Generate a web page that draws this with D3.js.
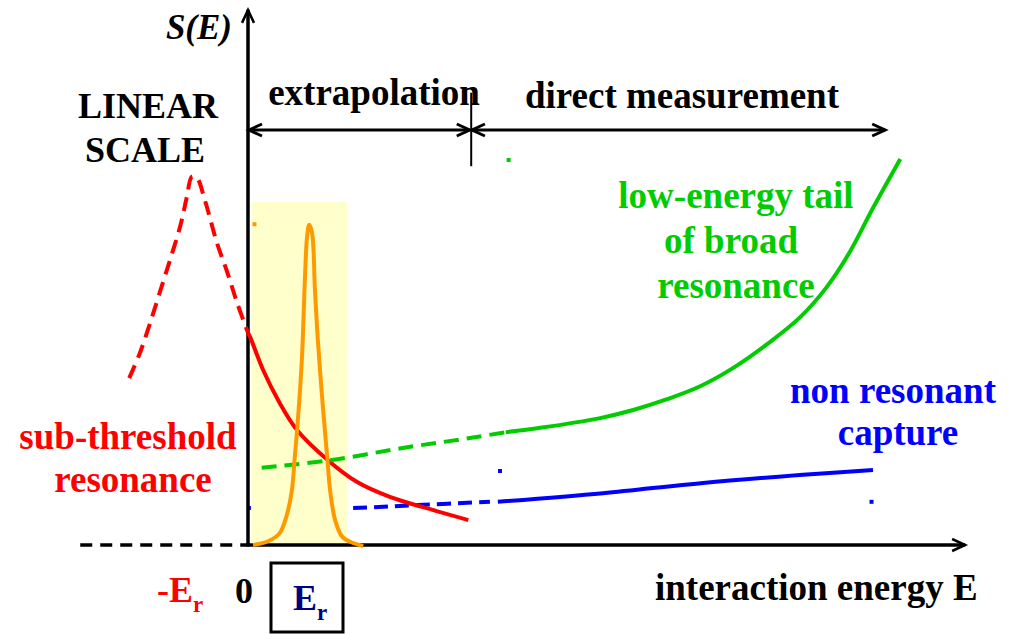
<!DOCTYPE html>
<html>
<head>
<meta charset="utf-8">
<script src="https://cdn.jsdelivr.net/npm/d3@7"></script>
<style>
  body { margin: 0; background: white; }
</style>
</head>
<body>
<div id="display"></div>
<script>
// curves: E and S(E) in arbitrary units
const subThresholdTail = [[-16.5, 30.9], [-15.0, 35.6], [-13.6, 41.1], [-12.2, 47.0], [-10.8, 52.9], [-9.4, 59.1],
    [-8.5, 64.4], [-7.8, 68.2], [-7.1, 68.0], [-6.0, 63.9], [-4.3, 55.9], [-2.9, 50.6], [-1.5, 44.8], [0, 39.3]];
const subThresholdData = [[0, 39.3], [0.3, 38.5], [2.1, 32.4], [4.4, 26.3], [6.8, 21.3], [11.1, 15.7],
    [15.1, 11.7], [19.7, 8.9], [24.3, 7.0], [30.6, 4.6]];
const narrowPeak = [[0.7, 0], [2.8, 0.7], [4.4, 2.2], [5.4, 5.6], [6.1, 10.2], [6.5, 16.3], [6.9, 22.6], [7.5, 34.8],
    [7.9, 49.1], [8.2, 57.0], [8.5, 59.3], [8.9, 57.8], [9.3, 47.2], [9.7, 38.0], [10.4, 25.6], [11.0, 16.3],
    [11.4, 10.2], [12.1, 4.6], [13.1, 1.5], [14.2, 0.6], [16.0, -0.2]];
const broadExtrap = [[1.9, 14.3], [11.4, 15.7], [22.1, 18.1], [30.8, 19.8], [35.8, 20.9]];
const broadMeasured = [[35.8, 20.9], [40.6, 21.7], [48.9, 23.5], [53.5, 25.0], [58.2, 27.0], [62.8, 29.4],
    [67.4, 32.8], [72.1, 37.2], [76.7, 42.2], [80.4, 47.8], [83.6, 54.3], [86.8, 62.4], [90.6, 71.5]];
const nonResExtrap = [[0, 6.85], [13.9, 6.85], [23.6, 7.4], [33.6, 8.0]];
const nonResMeasured = [[34.7, 8.0], [49.3, 9.6], [63.2, 11.5], [77.1, 13.0], [86.8, 13.9]];
const strayMarks = [[0.9, 59.4, '#ff9900'], [36.2, 71.3, '#00cc00'], [35.0, 13.7, '#0000ff'], [86.6, 8.0, '#0000ff']];

// ranges
const windowE = [0.4, 13.75], windowTop = 63.5;
const extrapE = [0, 30.8], measuredE = [31.1, 88.5], splitE = 31.0, rangeS = 76.85;
const negAxisE = -23.3, axisEndE = 99.6, axisEndS = 99.1;

const svg = d3.select('#display')
    .append('svg')
    .attr('width', 1015)
    .attr('height', 634);

const x = d3.scaleLinear().domain([0, 100]).range([248, 968]);
const y = d3.scaleLinear().domain([0, 100]).range([545, 5]);

const line = d3.line()
    .x(d => x(d[0]))
    .y(d => y(d[1]))
    .curve(d3.curveCatmullRom.alpha(0.5));

function curve(data, color, dash) {
    svg.append('path')
        .attr('d', line(data))
        .attr('fill', 'none')
        .attr('stroke', color)
        .attr('stroke-width', 4)
        .attr('stroke-dasharray', dash || null);
}

function arrowHead(px, py, dir, w) {
    // dir: angle of travel in degrees
    const g = svg.append('g').attr('transform', `translate(${px},${py}) rotate(${dir})`);
    g.append('path')
        .attr('d', 'M-13,-6 L0,0 L-13,6')
        .attr('fill', 'none')
        .attr('stroke', 'black')
        .attr('stroke-width', w);
}

function label(tx, ty, str, color, size, anchor) {
    return svg.append('text')
        .attr('x', tx)
        .attr('y', ty)
        .attr('fill', color)
        .attr('font-family', 'Liberation Serif')
        .attr('font-weight', 'bold')
        .attr('font-size', size + 'px')
        .attr('text-anchor', anchor || 'middle')
        .text(str);
}

// blue extrapolation sits under the highlighted window
curve(nonResExtrap, '#0000ff', '14,7');

svg.append('rect')
    .attr('x', x(windowE[0]))
    .attr('y', y(windowTop))
    .attr('width', x(windowE[1]) - x(windowE[0]))
    .attr('height', y(0) - y(windowTop))
    .attr('fill', '#ffffcc');

// axes
svg.append('line')
    .attr('x1', x(0)).attr('y1', y(0))
    .attr('x2', x(axisEndE)).attr('y2', y(0))
    .attr('stroke', 'black').attr('stroke-width', 3.5);
arrowHead(x(axisEndE), y(0), 0, 2.5);
svg.append('line')
    .attr('x1', x(0)).attr('y1', y(0) + 1.5)
    .attr('x2', x(0)).attr('y2', y(axisEndS))
    .attr('stroke', 'black').attr('stroke-width', 3.5);
arrowHead(x(0), y(axisEndS), -90, 2.5);
svg.append('line')
    .attr('x1', x(negAxisE)).attr('y1', y(0))
    .attr('x2', x(0)).attr('y2', y(0))
    .attr('stroke', 'black').attr('stroke-width', 3.5)
    .attr('stroke-dasharray', '12,8');

// range arrows
svg.append('line')
    .attr('x1', x(extrapE[0])).attr('y1', y(rangeS))
    .attr('x2', x(extrapE[1])).attr('y2', y(rangeS))
    .attr('stroke', 'black').attr('stroke-width', 3);
arrowHead(x(extrapE[0]) + 1, y(rangeS), 180, 3);
arrowHead(x(extrapE[1]), y(rangeS), 0, 3);
svg.append('line')
    .attr('x1', x(measuredE[0])).attr('y1', y(rangeS))
    .attr('x2', x(measuredE[1])).attr('y2', y(rangeS))
    .attr('stroke', 'black').attr('stroke-width', 3);
arrowHead(x(measuredE[0]), y(rangeS), 180, 3);
arrowHead(x(measuredE[1]), y(rangeS), 0, 3);
svg.append('line')
    .attr('x1', x(splitE)).attr('y1', y(rangeS + 6.9))
    .attr('x2', x(splitE)).attr('y2', y(rangeS - 6.7))
    .attr('stroke', 'black').attr('stroke-width', 2);

// curves
curve(subThresholdTail, '#ff0000', '14,8');
curve(subThresholdData, '#ff0000');
curve(broadExtrap, '#00cc00', '15,8');
curve(broadMeasured, '#00cc00');
curve(nonResMeasured, '#0000ff');
curve(narrowPeak, '#ff9900');

svg.selectAll('rect.stray')
    .data(strayMarks)
    .enter().append('rect')
    .attr('class', 'stray')
    .attr('x', d => x(d[0]) - 2)
    .attr('y', d => y(d[1]) - 2)
    .attr('width', 4)
    .attr('height', 4)
    .attr('fill', d => d[2]);

// texts
label(232, 39, 'S(E)', 'black', 35, 'end').attr('font-style', 'italic');
label(148, 118, 'LINEAR', 'black', 36);
label(145, 162, 'SCALE', 'black', 36);
label(374, 105, 'extrapolation', 'black', 37);
label(682, 108, 'direct measurement', 'black', 37);
label(736, 208, 'low-energy tail', '#00cc00', 37);
label(731, 253, 'of broad', '#00cc00', 37);
label(736, 298, 'resonance', '#00cc00', 37);
label(893, 403, 'non resonant', '#0000ff', 37);
label(898, 445, 'capture', '#0000ff', 37);
label(128, 449, 'sub-threshold', '#ff0000', 37);
label(133, 492, 'resonance', '#ff0000', 37);
label(655, 600, 'interaction energy E', 'black', 37, 'start');
label(244, 603, '0', 'black', 36);

const negEr = label(157, 602, '-E', '#ff0000', 36, 'start');
negEr.append('tspan').attr('dy', 10).attr('font-size', '23px').text('r');

svg.append('rect')
    .attr('x', 271).attr('y', 563)
    .attr('width', 72).attr('height', 69)
    .attr('fill', 'none')
    .attr('stroke', 'black')
    .attr('stroke-width', 3);
const er = label(293, 610, 'E', '#000080', 36, 'start');
er.append('tspan').attr('dy', 10).attr('font-size', '23px').text('r');
</script>
</body>
</html>
